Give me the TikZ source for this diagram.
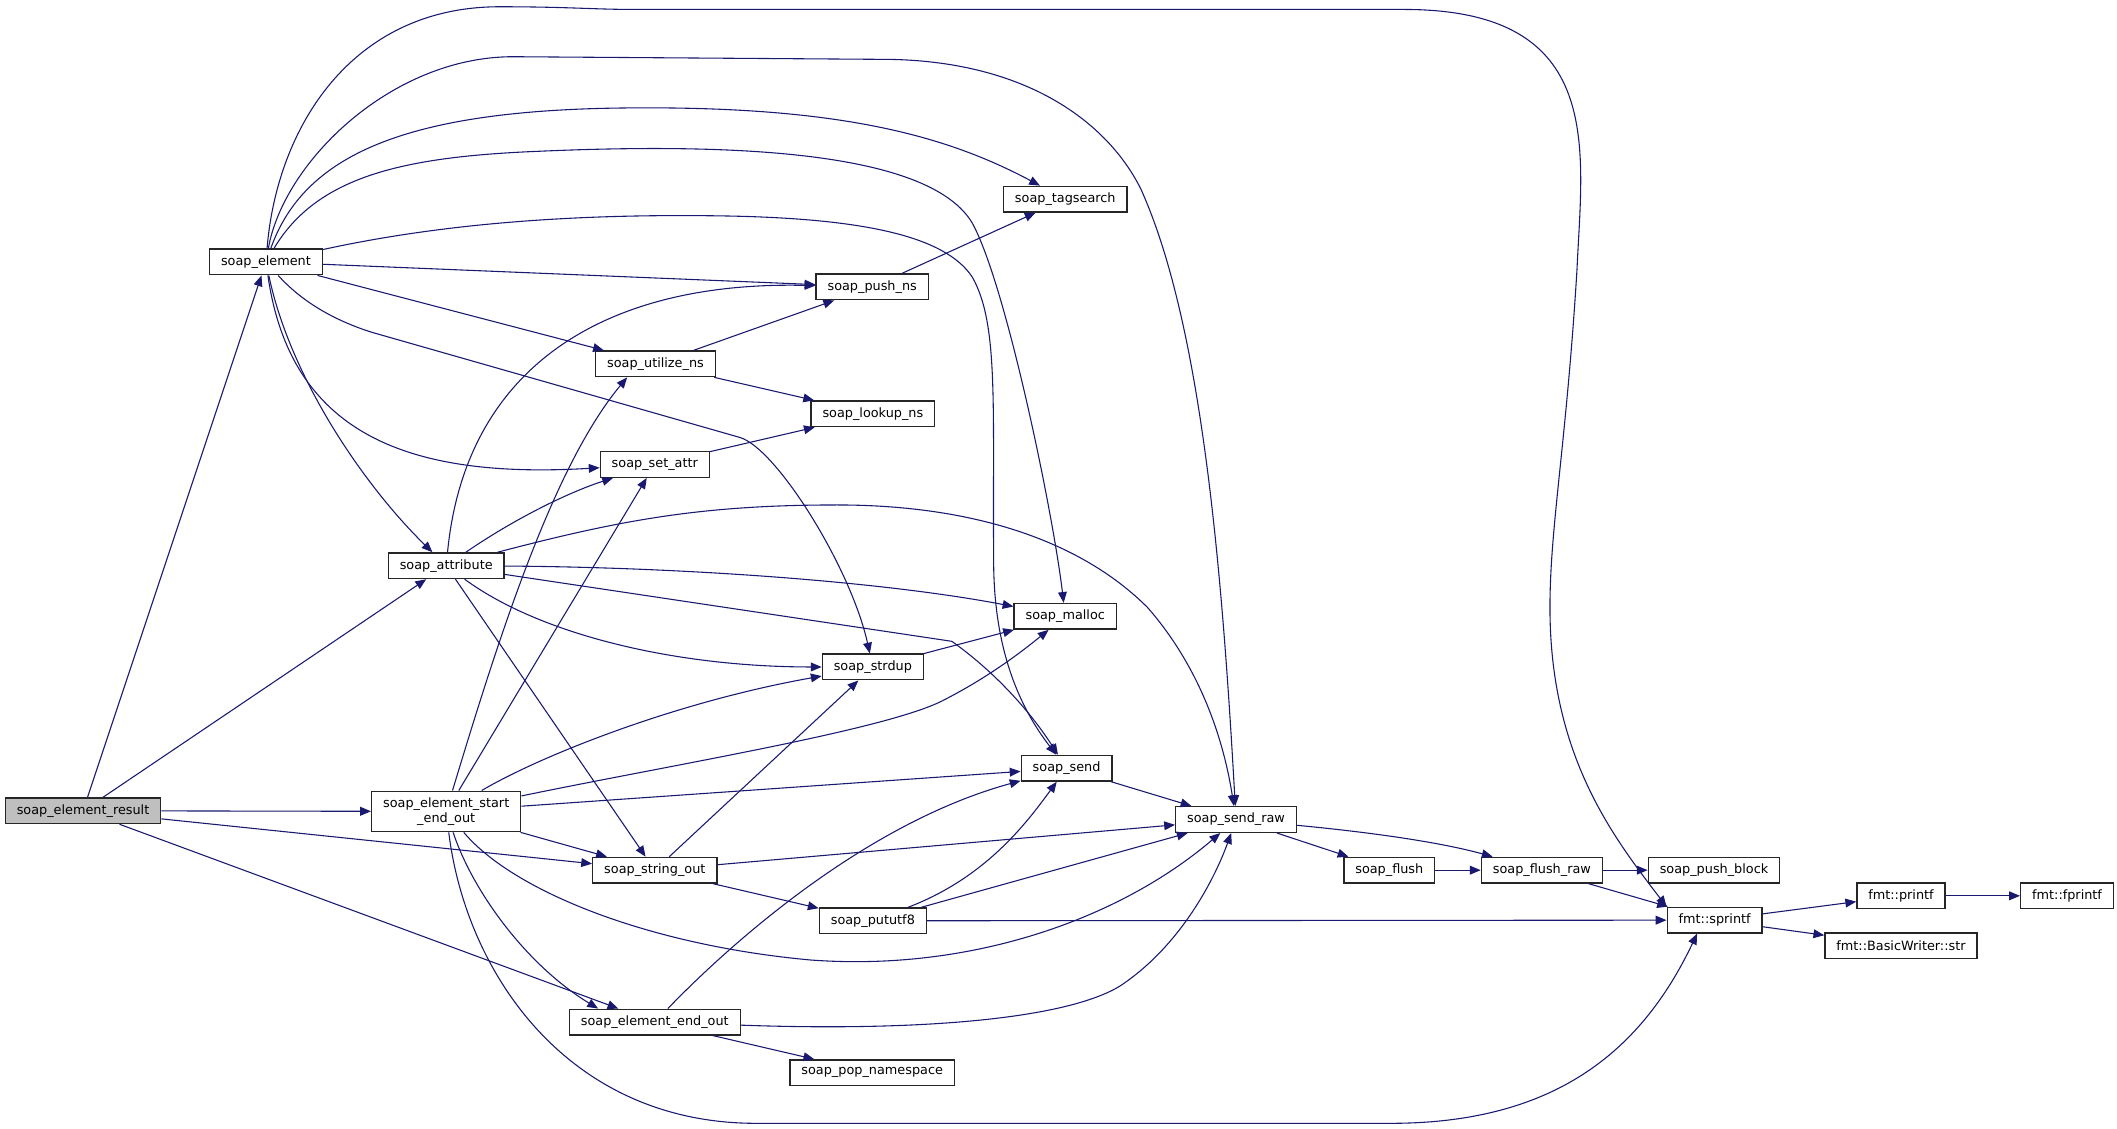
\documentclass[tikz,border=0pt]{standalone}
\usepackage{fontspec}
\setmainfont{DejaVu Sans}
\usepackage{tikz}
\usetikzlibrary{arrows.meta}
\usepackage{xcolor}
\definecolor{edgeblue}{HTML}{191970}
\tikzstyle{fn} = [rectangle, draw=black!85, line width=1pt, fill=white, inner xsep=8.5pt, inner ysep=0pt, minimum height=19pt, font=\fontsize{9.5}{11}\selectfont]
\tikzstyle{root} = [fn, fill=black!25]
\tikzstyle{line} = [draw, line width=0.8pt, color=edgeblue, -{Triangle[length=8pt, width=6.5pt]}]

\begin{document}
\begin{tikzpicture}[x=1pt, y=-1pt]
  	\useasboundingbox (0,0) rectangle (1568,836);
  	%% caller
  	\node[root] (R) at (61.5,600.5) {soap\_element\_result};
  	%% first level
  	\node[fn] (E) at (197,194) {soap\_element};
  	\node[fn] (A) at (330.5,419) {soap\_attribute};
  	\node[fn, align=center, minimum height=30pt] (S) at (330.5,601) {soap\_element\_start\\\_end\_out};
  	%% second level
  	\node[fn] (U) at (485.5,269.5) {soap\_utilize\_ns};
  	\node[fn] (SA) at (485,344) {soap\_set\_attr};
  	\node[fn] (SO) at (485,644.5) {soap\_string\_out};
  	\node[fn] (EO) at (485,757) {soap\_element\_end\_out};
  	%% third level
  	\node[fn] (PN) at (646,212.5) {soap\_push\_ns};
  	\node[fn] (LN) at (646.5,306.5) {soap\_lookup\_ns};
  	\node[fn] (SD) at (646.5,494) {soap\_strdup};
  	\node[fn] (PU) at (646.5,682) {soap\_pututf8};
  	\node[fn] (PP) at (646,794.5) {soap\_pop\_namespace};
  	%% fourth level
  	\node[fn] (TS) at (789,147.5) {soap\_tagsearch};
  	\node[fn] (ML) at (789,456.5) {soap\_malloc};
  	\node[fn] (SN) at (790,569) {soap\_send};
  	\node[fn] (SR) at (915.5,607) {soap\_send\_raw};
  	%% flushing
  	\node[fn] (FL) at (1029,644.5) {soap\_flush};
  	\node[fn] (FR) at (1142,644.5) {soap\_flush\_raw};
  	\node[fn] (PB) at (1269.5,644.5) {soap\_push\_block};
  	%% fmt
  	\node[fn] (SP) at (1270,681.5) {fmt::sprintf};
  	\node[fn] (PF) at (1408,663.5) {fmt::printf};
  	\node[fn] (FP) at (1531,663.5) {fmt::fprintf};
  	\node[fn] (BW) at (1408,700.5) {fmt::BasicWriter::str};
  	%% edges of soap_element_result
  	\path[line] (R) -- (E);
  	\path[line] (R) -- (A);
  	\path[line] (R) -- (S);
  	\path[line] (R) -- (SO);
  	\path[line] (R) -- (EO);
  	%% edges of soap_element
  	\path[line] (E) .. controls (205,95) and (260,5) .. (370,5) .. controls (420,5) and (440,7) .. (470,7) -- (1040,7) .. controls (1190,7) and (1172,110) .. (1168,200) .. controls (1160,330) and (1148,390) .. (1148,450) .. controls (1148,560) and (1195,620) .. (SP.north west);
  	\path[line] (E) .. controls (210,120) and (290,42) .. (380,42) -- (660,44) .. controls (760,46) and (820,90) .. (845,140) .. controls (890,240) and (905,420) .. (SR);
  	\path[line] (E) .. controls (225,115) and (300,82) .. (460,80) .. controls (620,78) and (700,100) .. (TS);
  	\path[line] (E) .. controls (235,130) and (300,116) .. (400,112) .. controls (560,105) and (690,115) .. (720,165) .. controls (745,210) and (780,380) .. (ML);
  	\path[line] (E) .. controls (330,165) and (430,158) .. (540,160) .. controls (640,162) and (700,175) .. (720,205) .. controls (740,240) and (735,300) .. (736,420) .. controls (737,490) and (760,530) .. (SN);
  	\path[line] (E) -- (PN);
  	\path[line] (E) -- (U);
  	\path[line] (E) .. controls (225,225) and (250,238) .. (275,246) -- (548,324) .. controls (575,332) and (630,420) .. (SD);
  	\path[line] (E) .. controls (215,320) and (300,355) .. (SA);
  	\path[line] (E) .. controls (215,280) and (270,360) .. (A);
  	%% edges of soap_attribute
  	\path[line] (A) .. controls (345,270) and (450,208) .. (PN);
  	\path[line] (A) .. controls (380,385) and (420,365) .. (SA);
  	\path[line] (A) .. controls (460,385) and (520,374) .. (620,374) .. controls (720,374) and (800,400) .. (850,450) .. controls (885,490) and (905,540) .. (SR);
  	\path[line] (A) .. controls (500,420) and (650,430) .. (ML);
  	\path[line] (A) -- (705,475) .. controls (740,500) and (765,530) .. (SN);
  	\path[line] (A) .. controls (400,470) and (500,494) .. (SD);
  	\path[line] (A) -- (SO);
  	%% edges of soap_element_start_end_out
  	\path[line] (S) .. controls (370,470) and (410,345) .. ([xshift=-21pt]U.south);
  	\path[line] (S) -- (SA);
  	\path[line] (S) .. controls (400,560) and (500,520) .. (SD);
  	\path[line] (S) .. controls (500,566) and (660,540) .. (700,518) .. controls (735,500) and (760,480) .. (ML);
  	\path[line] (S) -- (SN);
  	\path[line] (S) -- (SO);
  	\path[line] (S) .. controls (380,660) and (480,700) .. (600,711) .. controls (720,720) and (830,680) .. (SR);
  	\path[line] (S) .. controls (350,660) and (390,715) .. ([xshift=-42pt]EO.north);
  	\path[line] (S) .. controls (345,720) and (420,832) .. (560,832) -- (1030,832) .. controls (1150,832) and (1215,780) .. ([xshift=-13pt]SP.south);
  	%% edges of soap_string_out
  	\path[line] (SO) -- (SD);
  	\path[line] (SO) -- (SR);
  	\path[line] (SO) -- (PU);
  	%% namespaces and memory
  	\path[line] (U) -- (PN);
  	\path[line] (U) -- (LN);
  	\path[line] (SA) -- (LN);
  	\path[line] (PN) -- (TS);
  	\path[line] (SD) -- (ML);
  	\path[line] (SN) -- (SR);
  	%% edges of soap_pututf8
  	\path[line] (PU) .. controls (730,650) and (760,610) .. (SN);
  	\path[line] (PU) -- (SR);
  	\path[line] (PU) -- (SP);
  	%% edges of soap_element_end_out
  	\path[line] (EO) .. controls (540,700) and (640,610) .. (SN);
  	\path[line] (EO) .. controls (680,764) and (790,755) .. (830,730) .. controls (875,700) and (900,650) .. (SR);
  	\path[line] (EO) -- (PP);
  	%% sending and fmt
  	\path[line] (SR) -- (FL);
  	\path[line] (SR) .. controls (1000,615) and (1060,622) .. (FR);
  	\path[line] (FL) -- (FR);
  	\path[line] (FR) -- (PB);
  	\path[line] (FR) -- (SP);
  	\path[line] (SP) -- (PF);
  	\path[line] (SP) -- (BW);
  	\path[line] (PF) -- (FP);
\end{tikzpicture}
\end{document}
